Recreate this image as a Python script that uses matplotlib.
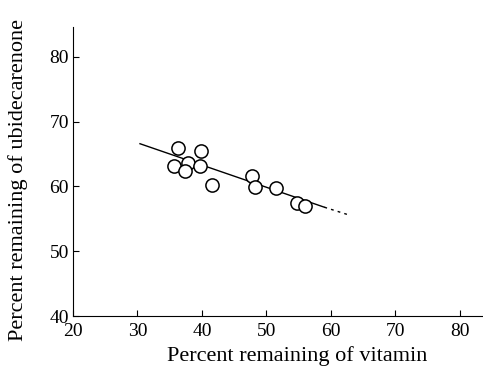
import numpy as np
import matplotlib
matplotlib.use("Agg")
import matplotlib.pyplot as plt

plt.rcParams['font.family'] = ['Liberation Serif', 'DejaVu Serif']

# percent remaining of vitamin (x) vs ubidecarenone (y)
vitamin = [36.3, 35.7, 37.9, 37.4, 39.9, 39.7, 41.5, 47.8, 48.2, 51.5, 54.7, 56.0]
ubidecarenone = [66.0, 63.1, 63.7, 62.4, 65.4, 63.2, 60.2, 61.6, 59.9, 59.7, 57.5, 57.0]

# regression line: solid part and dashed extrapolation
fit_x = [30.4, 59.0]
fit_y = [66.6, 56.8]
ext_x = [59.0, 62.5]
ext_y = [56.8, 55.7]

fig = plt.figure(figsize=(4.83, 3.71), dpi=100)
ax = fig.add_axes([0.151, 0.148, 0.849, 0.779])

ax.plot(fit_x, fit_y, color='black', lw=1.0, zorder=1)
ax.plot(ext_x, ext_y, color='black', lw=1.0, ls=(0, (2, 3)), zorder=1)
ax.plot(vitamin, ubidecarenone, 'o', ms=9.5, mfc='white', mec='black', mew=1.1, zorder=2)

ax.set_xlim(20, 83.6)
ax.set_ylim(40, 84.6)
ax.set_xticks([20, 30, 40, 50, 60, 70, 80])
ax.set_yticks([40, 50, 60, 70, 80])
ax.spines['top'].set_visible(False)
ax.spines['right'].set_visible(False)
ax.tick_params(direction='in', length=4, width=0.8, labelsize=14)
ax.tick_params(axis='x', pad=5)
ax.tick_params(axis='y', pad=3)

ax.set_xlabel('Percent remaining of vitamin', fontsize=16)
ax.xaxis.set_label_coords(0.546, -0.105)
ax.set_ylabel('Percent remaining of ubidecarenone', fontsize=16)
ax.yaxis.set_label_coords(-0.11, 0.47)

plt.savefig("out.png", dpi=100)
